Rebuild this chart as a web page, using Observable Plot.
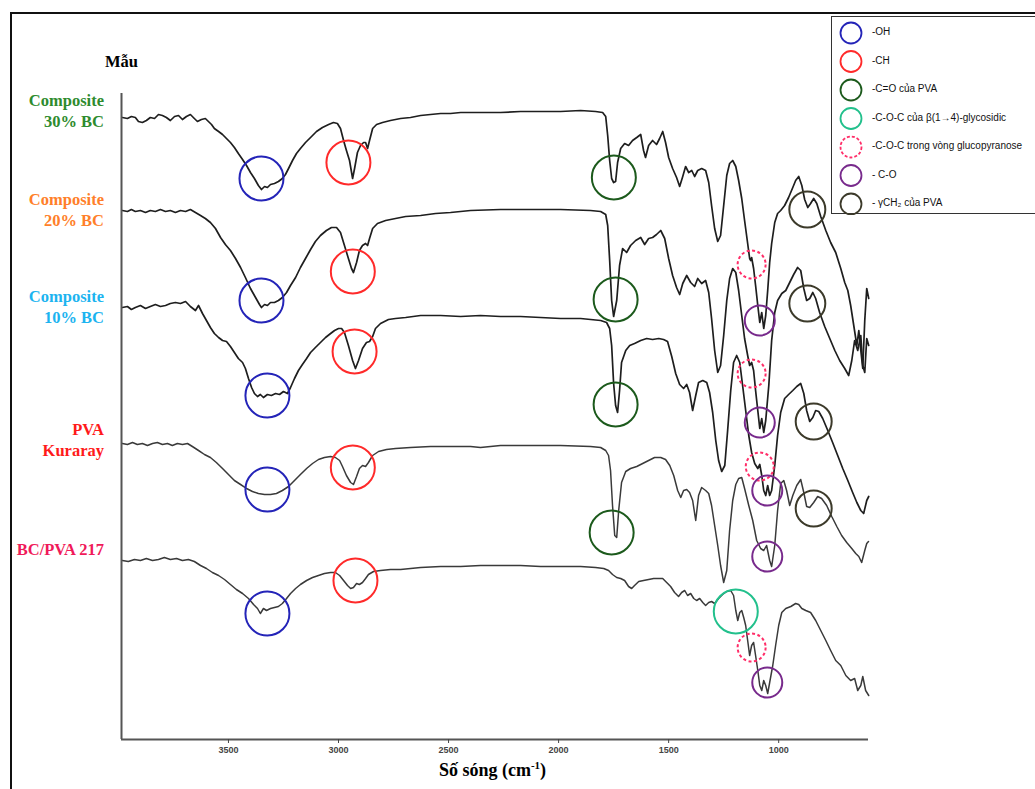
<!DOCTYPE html>
<html>
<head>
<meta charset="utf-8">
<script src="https://cdn.jsdelivr.net/npm/d3@7"></script>
<script src="https://cdn.jsdelivr.net/npm/@observablehq/plot@0.6"></script>
<style>
  html, body { margin: 0; padding: 0; background: #fff; }
  #page { position: relative; width: 1035px; height: 789px; overflow: hidden; background: #fff; }
  #frame { position: absolute; left: 10px; top: 12px; width: 1100px; height: 900px; border: 2px solid #111; box-sizing: border-box; }
  #chart { position: absolute; left: 0; top: 0; }
  .lbl { position: absolute; font-family: "Liberation Serif", "Times New Roman", serif; font-weight: bold; font-size: 16.5px; text-align: right; line-height: 21px; right: calc(1035px - 104px); white-space: nowrap; }
  #mau { position: absolute; left: 105px; top: 52px; font-family: "Liberation Serif", serif; font-weight: bold; font-size: 16.5px; }
  #xtitle { position: absolute; left: 0; width: 985px; text-align: center; top: 759px; font-family: "Liberation Serif", serif; font-weight: bold; font-size: 18px; }
  #xtitle sup { font-size: 11px; }
  #legend { position: absolute; left: 831px; top: 16px; width: 260px; height: 198px; border: 1px solid #333; box-sizing: border-box; background: #fff; }
  #legend .item { position: absolute; left: 40px; font-family: "Liberation Sans", Arial, sans-serif; font-size: 10px; color: #111; white-space: nowrap; }
</style>
</head>
<body>
<div id="page">
  <div id="frame"></div>
  <div id="chart"></div>
  <div id="mau">Mẫu</div>
  <div id="labels"></div>
  <div id="xtitle">Số sóng (cm<sup>-1</sup>)</div>
  <div id="legend"></div>
</div>
<script>
// ---- Sample names (top to bottom) ----
const sampleNames = [["Composite", "30% BC"], ["Composite", "20% BC"], ["Composite", "10% BC"], ["PVA", "Kuraray"], ["BC/PVA 217"]];
const sampleColors = ["#2e8b2e", "#ff7f2a", "#1cb4f0", "#ff1a1a", "#f01a5a"];
const sampleLabelTop = [90, 189, 286, 419, 539];

// ---- X axis ticks (wavenumber, cm-1) ----
const xTicks = [3500, 3000, 2500, 2000, 1500, 1000];

// ---- Spectra: [wavenumber (cm-1), transmittance (a.u., stacked with offset)] ----
const specC30 = [[3982,622],[3959,621],[3941,623],[3923,622],[3909,618],[3891,617],[3873,619],[3855,622],[3836,621],[3818,625],[3800,624],[3782,622],[3764,619],[3745,623],[3727,624],[3709,620],[3691,623],[3673,625],[3655,621],[3641,618],[3623,620],[3605,621],[3591,618],[3577,615],[3564,611],[3545,608],[3527,605],[3509,601],[3491,597],[3473,592],[3455,586],[3436,580],[3418,574],[3400,567],[3382,561],[3364,554],[3350,550],[3336,553],[3323,552],[3309,555],[3291,556],[3273,558],[3255,561],[3241,565],[3227,571],[3209,579],[3191,586],[3173,591],[3150,597],[3127,602],[3100,608],[3073,612],[3045,615],[3023,617],[3005,616],[2991,611],[2977,599],[2964,589],[2950,579],[2936,561],[2927,571],[2914,587],[2900,594],[2886,597],[2877,597],[2868,591],[2859,599],[2845,611],[2827,615],[2800,617],[2764,619],[2718,621],[2673,622],[2627,624],[2582,625],[2536,626],[2491,626],[2445,627],[2355,627],[2264,627],[2173,628],[2082,628],[1991,628],[1900,629],[1832,628],[1800,627],[1786,623],[1777,604],[1768,579],[1759,561],[1750,557],[1741,558],[1732,577],[1718,591],[1700,596],[1682,594],[1664,599],[1645,602],[1627,605],[1614,589],[1605,582],[1591,594],[1573,599],[1555,595],[1541,601],[1527,608],[1514,597],[1500,582],[1482,571],[1464,562],[1450,553],[1436,563],[1423,573],[1409,567],[1395,569],[1382,563],[1368,569],[1350,571],[1332,569],[1318,557],[1305,534],[1291,511],[1277,498],[1264,504],[1250,534],[1236,564],[1223,576],[1209,579],[1195,573],[1182,559],[1168,541],[1155,519],[1141,496],[1132,481],[1127,479],[1123,482],[1114,471],[1105,454],[1095,434],[1086,417],[1077,427],[1068,411],[1059,424],[1050,449],[1041,477],[1032,496],[1018,517],[1005,526],[991,529],[973,534],[955,542],[936,552],[923,559],[909,563],[895,554],[882,540],[868,532],[855,536],[841,541],[827,536],[809,523],[786,509],[764,497],[741,487],[718,471],[700,457],[686,449],[673,434],[659,414],[645,394],[636,409],[627,389],[618,371],[609,419],[600,451],[591,441]];

const specC20 = [[3982,529],[3959,528],[3941,530],[3923,528],[3900,529],[3877,527],[3855,529],[3832,528],[3809,530],[3786,528],[3764,529],[3741,527],[3718,529],[3695,528],[3673,530],[3650,527],[3627,524],[3605,521],[3582,517],[3559,511],[3536,502],[3514,495],[3491,489],[3468,481],[3445,472],[3423,462],[3400,451],[3377,442],[3359,435],[3350,432],[3336,435],[3323,434],[3309,437],[3291,437],[3273,439],[3255,442],[3236,447],[3218,454],[3195,462],[3173,472],[3150,481],[3127,490],[3105,498],[3082,504],[3055,509],[3032,512],[3009,512],[2991,507],[2973,494],[2955,481],[2941,471],[2932,467],[2918,477],[2905,489],[2891,494],[2877,496],[2868,494],[2859,501],[2845,511],[2823,516],[2786,519],[2741,521],[2695,523],[2627,524],[2559,526],[2491,527],[2400,529],[2264,530],[2127,530],[1991,530],[1855,529],[1809,528],[1786,525],[1777,514],[1768,479],[1759,439],[1750,423],[1736,439],[1723,474],[1709,491],[1691,487],[1673,494],[1650,499],[1627,502],[1609,495],[1591,501],[1573,502],[1555,505],[1536,509],[1518,501],[1500,481],[1482,464],[1464,452],[1450,445],[1436,456],[1418,464],[1400,457],[1382,453],[1368,461],[1350,456],[1332,459],[1318,447],[1305,421],[1291,389],[1277,367],[1264,374],[1250,404],[1236,439],[1223,461],[1209,471],[1195,467],[1182,449],[1168,424],[1155,401],[1141,384],[1132,374],[1123,377],[1114,369],[1105,349],[1095,329],[1086,311],[1077,321],[1068,307],[1059,319],[1045,354],[1032,399],[1018,427],[1005,439],[986,446],[968,449],[950,457],[932,465],[914,472],[900,469],[886,451],[873,439],[859,441],[845,447],[832,441],[814,427],[791,413],[768,401],[745,389],[723,379],[700,371],[682,364],[668,379],[655,399],[641,389],[627,404],[618,374],[609,367],[600,401],[591,394]];

const specC10 = [[3982,432],[3959,433],[3941,430],[3923,432],[3900,434],[3877,431],[3855,433],[3832,435],[3809,433],[3786,434],[3764,436],[3741,437],[3718,436],[3695,438],[3673,433],[3650,429],[3636,434],[3618,426],[3600,419],[3582,412],[3564,406],[3545,402],[3527,399],[3509,398],[3491,393],[3473,387],[3455,381],[3436,377],[3423,371],[3409,361],[3395,352],[3382,346],[3368,343],[3355,345],[3341,342],[3323,345],[3305,344],[3286,346],[3268,345],[3250,348],[3232,346],[3218,352],[3200,361],[3182,369],[3164,375],[3145,381],[3127,387],[3105,392],[3082,397],[3059,402],[3036,406],[3018,409],[3000,411],[2986,411],[2973,407],[2955,394],[2936,379],[2923,371],[2909,379],[2891,391],[2873,397],[2859,398],[2845,403],[2832,411],[2809,416],[2773,420],[2741,421],[2695,422],[2627,424],[2536,424],[2445,423],[2355,424],[2264,423],[2173,423],[2082,422],[1991,421],[1900,421],[1809,419],[1782,417],[1768,411],[1759,394],[1750,356],[1741,334],[1732,327],[1723,349],[1714,377],[1695,389],[1677,394],[1655,396],[1627,399],[1600,401],[1573,400],[1545,401],[1523,400],[1505,398],[1486,383],[1468,366],[1450,355],[1432,351],[1418,355],[1405,347],[1391,329],[1377,344],[1364,357],[1345,359],[1327,357],[1314,347],[1300,327],[1286,299],[1273,279],[1259,268],[1245,274],[1232,309],[1218,349],[1205,377],[1191,384],[1177,377],[1164,354],[1150,329],[1136,304],[1123,287],[1109,276],[1095,271],[1086,275],[1077,264],[1068,249],[1059,244],[1050,254],[1041,244],[1032,249],[1018,274],[1005,304],[991,327],[973,341],[955,345],[936,349],[918,353],[900,356],[886,346],[873,329],[859,318],[845,322],[832,329],[818,328],[800,321],[777,309],[755,297],[732,284],[709,271],[686,259],[664,247],[645,237],[627,229],[614,226],[600,239],[591,243]];

const specPVA = [[3982,296],[3959,295],[3936,297],[3914,295],[3891,296],[3868,294],[3845,296],[3823,297],[3800,295],[3777,296],[3755,294],[3732,296],[3709,295],[3686,296],[3664,293],[3636,289],[3609,285],[3582,282],[3555,277],[3527,271],[3500,265],[3473,259],[3445,255],[3418,251],[3391,248],[3364,246],[3336,245],[3309,245],[3282,246],[3255,249],[3227,253],[3200,259],[3173,265],[3145,271],[3118,276],[3091,280],[3064,282],[3036,283],[3014,282],[2995,279],[2982,273],[2964,264],[2945,257],[2932,255],[2918,263],[2905,271],[2891,274],[2877,273],[2864,277],[2845,284],[2818,288],[2782,290],[2741,291],[2673,292],[2582,293],[2491,293],[2400,293],[2355,292],[2264,294],[2127,294],[1991,294],[1855,293],[1809,292],[1786,289],[1773,284],[1764,269],[1755,234],[1745,204],[1736,202],[1727,229],[1714,257],[1695,268],[1673,271],[1645,273],[1618,276],[1591,279],[1564,282],[1536,282],[1514,280],[1495,274],[1477,264],[1459,249],[1445,242],[1432,249],[1418,250],[1405,247],[1391,239],[1377,219],[1364,244],[1350,252],[1332,249],[1318,246],[1305,234],[1291,214],[1277,194],[1264,174],[1250,157],[1236,169],[1223,209],[1209,239],[1195,255],[1182,261],[1168,262],[1155,251],[1136,234],[1118,219],[1100,199],[1082,191],[1068,189],[1055,194],[1041,179],[1032,173],[1018,194],[1005,229],[991,256],[977,259],[964,249],[950,234],[936,244],[918,254],[900,260],[886,247],[873,233],[859,232],[841,237],[823,243],[805,241],[782,234],[759,223],[736,213],[714,204],[691,197],[668,191],[650,186],[636,183],[623,177],[609,189],[600,196],[592,198]];

const specBCPVA = [[3982,179],[3955,178],[3927,180],[3900,179],[3873,181],[3845,179],[3818,180],[3791,182],[3764,180],[3736,181],[3709,179],[3682,180],[3655,178],[3627,174],[3600,171],[3573,167],[3545,164],[3518,160],[3491,155],[3464,150],[3436,146],[3409,141],[3386,135],[3368,131],[3355,126],[3341,131],[3327,129],[3309,131],[3291,132],[3273,133],[3255,136],[3236,141],[3218,146],[3195,151],[3173,155],[3145,159],[3118,162],[3091,164],[3064,166],[3036,167],[3014,167],[2995,164],[2977,159],[2959,154],[2945,151],[2932,152],[2918,156],[2905,155],[2891,157],[2877,161],[2864,165],[2841,168],[2809,169],[2764,170],[2718,170],[2627,172],[2536,173],[2445,173],[2355,174],[2264,174],[2173,174],[2082,173],[1991,173],[1900,173],[1832,172],[1795,171],[1773,169],[1755,165],[1736,162],[1718,161],[1700,159],[1682,153],[1668,151],[1655,154],[1636,158],[1614,159],[1591,160],[1568,161],[1545,161],[1527,161],[1509,157],[1491,153],[1473,147],[1455,143],[1441,147],[1427,149],[1414,144],[1400,146],[1386,141],[1373,139],[1359,141],[1345,137],[1332,134],[1318,137],[1305,138],[1291,136],[1273,141],[1255,145],[1236,148],[1218,149],[1205,144],[1195,129],[1186,119],[1177,127],[1168,129],[1159,122],[1150,114],[1141,99],[1132,84],[1123,94],[1114,97],[1105,84],[1095,69],[1086,54],[1077,49],[1068,59],[1059,54],[1050,46],[1041,57],[1027,74],[1014,94],[1000,114],[986,127],[968,131],[945,133],[923,136],[909,135],[895,131],[877,129],[855,127],[832,119],[809,109],[786,99],[764,89],[741,79],[718,74],[695,64],[673,59],[655,61],[641,49],[627,54],[618,63],[605,49],[591,44]];

const spectra = [specC30, specC20, specC10, specPVA, specBCPVA];
const spectraColor = ["#1e1e1e", "#1e1e1e", "#1e1e1e", "#3a3a3a", "#3a3a3a"];
const spectraWidth = [1.7, 1.7, 1.7, 1.5, 1.5];

// ---- Band annotations (circles) ----
const bandNames = ["-OH", "-CH", "-C=O của PVA", "-C-O-C của β(1→4)-glycosidic", "-C-O-C trong vòng  glucopyranose", "- C-O", "- γCH₂ của PVA"];
const bandColors = ["#2424b8", "#ff2a2a", "#1c5a1c", "#22c08c", "#ff2d68", "#782a8c", "#3c3a2a"];
const bandRadius = [22, 22, 22, 22, 14, 15, 18];
const bandDashed = [false, false, false, false, true, false, false];
// [band index, wavenumber, a.u.]
const bandMarks = [
  [0, 3350, 561], [0, 3350, 439], [0, 3323, 344], [0, 3323, 250], [0, 3323, 126],
  [1, 2955, 577], [1, 2935, 468], [1, 2927, 388], [1, 2935, 272], [1, 2923, 159],
  [2, 1749, 562], [2, 1741, 440], [2, 1741, 335], [2, 1759, 207],
  [3, 1195, 128],
  [4, 1123, 475], [4, 1123, 366], [4, 1086, 273], [4, 1123, 92],
  [5, 1086, 419], [5, 1086, 317], [5, 1052, 249], [5, 1052, 183], [5, 1052, 57],
  [6, 870, 530], [6, 870, 436], [6, 841, 318], [6, 841, 231]
];

// ---- Build chart ----
const marks = [];
spectra.forEach((s, i) => {
  marks.push(Plot.line(s, {x: d => d[0], y: d => d[1], stroke: spectraColor[i], strokeWidth: spectraWidth[i], strokeLinejoin: "round"}));
});
bandNames.forEach((name, b) => {
  const pts = bandMarks.filter(m => m[0] === b);
  marks.push(Plot.dot(pts, {x: d => d[1], y: d => d[2], r: bandRadius[b], stroke: bandColors[b], strokeWidth: 2, fill: "none", strokeDasharray: bandDashed[b] ? "3,2.5" : null}));
});
// axis lines
marks.push(Plot.ruleX([3986], {y1: 0, y2: 646, stroke: "#555", strokeWidth: 2}));
marks.push(Plot.ruleY([0], {x1: 3986, x2: 592, stroke: "#555", strokeWidth: 2}));
marks.push(Plot.axisX({ticks: xTicks, tickSize: 4, tickPadding: 3, tickFormat: d => String(d), fontSize: 9, fontWeight: "bold", color: "#444", stroke: "#444"}));

const chart = Plot.plot({
  width: 1035,
  height: 789,
  marginLeft: 121,
  marginRight: 167,
  marginTop: 93,
  marginBottom: 50,
  x: {domain: [3986, 592]},
  y: {domain: [0, 646], axis: null},
  style: {background: "transparent", fontFamily: "Liberation Sans, Arial, sans-serif"},
  marks
});
document.getElementById("chart").appendChild(chart);

// ---- Sample labels ----
const labelsDiv = document.getElementById("labels");
sampleNames.forEach((lines, i) => {
  const d = document.createElement("div");
  d.className = "lbl";
  d.style.top = sampleLabelTop[i] + "px";
  d.style.color = sampleColors[i];
  d.innerHTML = lines.join("<br>");
  labelsDiv.appendChild(d);
});

// ---- Legend ----
const legend = document.getElementById("legend");
const legendSvg = d3.create("svg").attr("width", 40).attr("height", 198).style("position", "absolute").style("left", 0).style("top", 0);
bandNames.forEach((name, b) => {
  const cy = 16 + b * 28.5;
  legendSvg.append("circle").attr("cx", 19).attr("cy", cy).attr("r", 10.5)
    .attr("fill", "none").attr("stroke", bandColors[b]).attr("stroke-width", 1.8)
    .attr("stroke-dasharray", bandDashed[b] ? "3,2" : null);
  const t = document.createElement("div");
  t.className = "item";
  t.style.top = (cy - 7) + "px";
  t.textContent = name;
  legend.appendChild(t);
});
legend.appendChild(legendSvg.node());
</script>
</body>
</html>
